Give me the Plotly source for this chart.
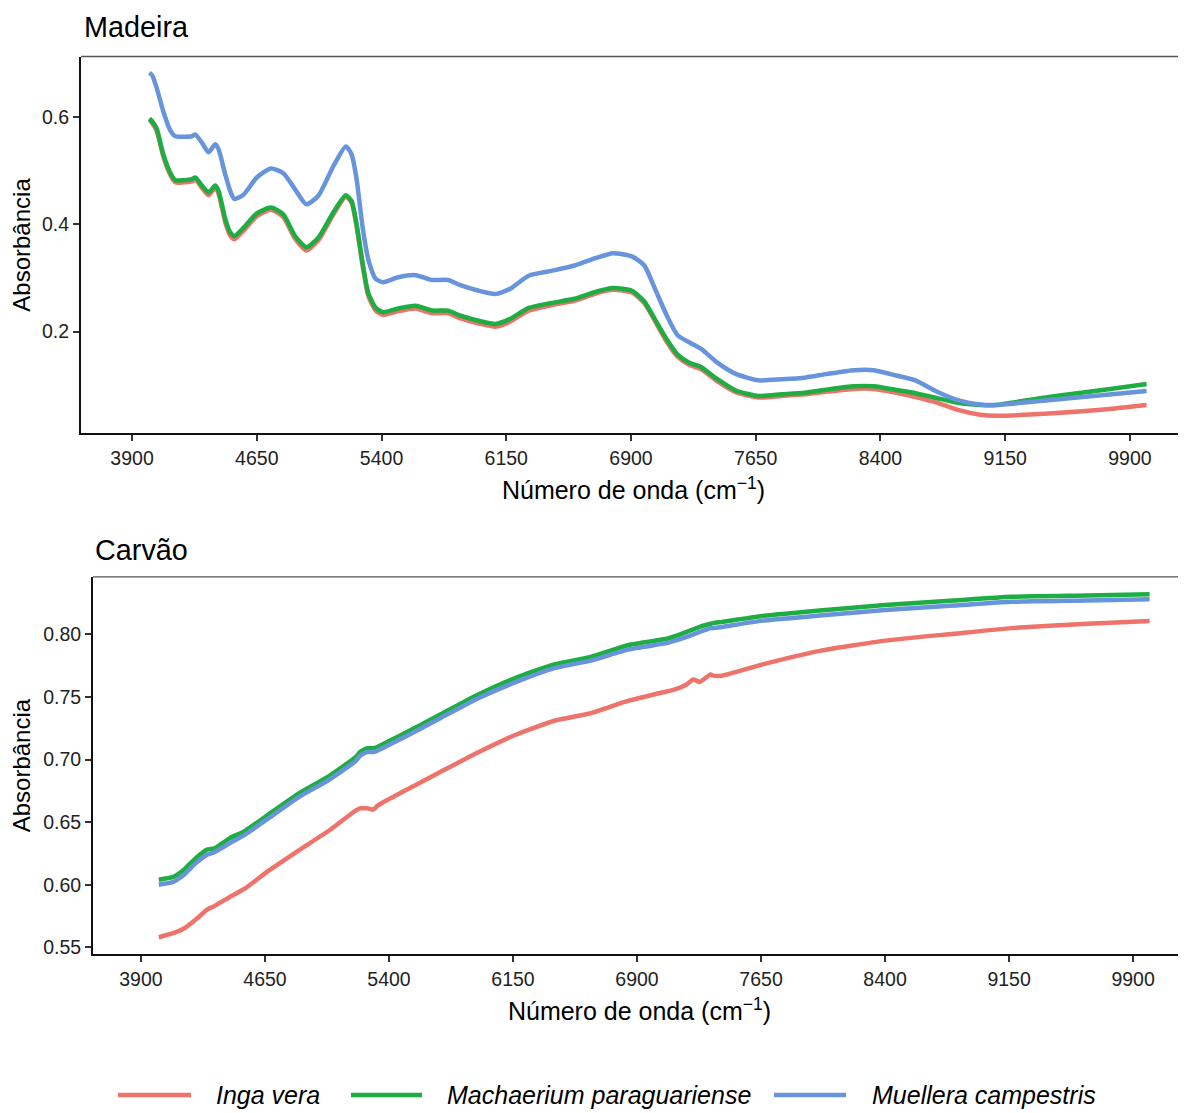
import plotly.graph_objects as go

# ---------------- data ----------------
series_names = ["Inga vera", "Machaerium paraguariense", "Muellera campestris"]
series_colors = ["#EE736B", "#1DAD43", "#6794DA"]

# Madeira (wood) spectra
wood_x = [4004, 4020, 4048, 4088, 4128, 4160, 4210, 4260, 4280, 4320, 4360, 4400, 4420,
          4460, 4490, 4515, 4570, 4650, 4735, 4810, 4880, 4948, 5020, 5110, 5185, 5220,
          5250, 5285, 5320, 5365, 5410, 5500, 5605, 5705, 5800, 5870, 5985, 6085, 6170,
          6285, 6420, 6560, 6700, 6790, 6905, 6980, 7045, 7115, 7180, 7250, 7320, 7415,
          7530, 7665, 7805, 7945, 8080, 8240, 8360, 8495, 8610, 8725, 8865, 9000, 9095,
          9410, 9760, 10000]
wood_inga = [0.594, 0.589, 0.574, 0.526, 0.493, 0.478, 0.478, 0.480, 0.483, 0.468, 0.454,
             0.468, 0.457, 0.404, 0.379, 0.372, 0.388, 0.415, 0.427, 0.413, 0.373, 0.351,
             0.370, 0.418, 0.451, 0.440, 0.396, 0.325, 0.267, 0.239, 0.231, 0.238, 0.243,
             0.234, 0.234, 0.225, 0.215, 0.209, 0.218, 0.239, 0.249, 0.257, 0.272, 0.278,
             0.273, 0.253, 0.219, 0.181, 0.153, 0.138, 0.130, 0.108, 0.087, 0.077, 0.080,
             0.083, 0.088, 0.093, 0.093, 0.086, 0.078, 0.069, 0.054, 0.045, 0.043, 0.047,
             0.055, 0.063]
wood_mach = [0.597, 0.592, 0.578, 0.530, 0.497, 0.482, 0.482, 0.484, 0.487, 0.472, 0.459,
             0.472, 0.462, 0.410, 0.385, 0.378, 0.393, 0.420, 0.431, 0.418, 0.378, 0.357,
             0.375, 0.422, 0.454, 0.443, 0.400, 0.330, 0.272, 0.244, 0.236, 0.243, 0.248,
             0.239, 0.239, 0.230, 0.220, 0.214, 0.223, 0.244, 0.253, 0.261, 0.275, 0.281,
             0.276, 0.256, 0.222, 0.185, 0.157, 0.142, 0.134, 0.112, 0.090, 0.080, 0.083,
             0.086, 0.092, 0.098, 0.098, 0.091, 0.085, 0.077, 0.067, 0.063, 0.063, 0.078,
             0.092, 0.102]
wood_muel = [0.682, 0.678, 0.654, 0.610, 0.576, 0.564, 0.563, 0.564, 0.567, 0.552, 0.534,
             0.549, 0.540, 0.493, 0.462, 0.447, 0.455, 0.487, 0.504, 0.495, 0.465, 0.437,
             0.453, 0.508, 0.545, 0.530, 0.484, 0.397, 0.335, 0.298, 0.292, 0.301, 0.305,
             0.296, 0.296, 0.287, 0.276, 0.270, 0.279, 0.304, 0.313, 0.323, 0.338, 0.346,
             0.340, 0.323, 0.279, 0.230, 0.193, 0.180, 0.168, 0.143, 0.121, 0.109, 0.111,
             0.114, 0.121, 0.128, 0.128, 0.118, 0.109, 0.090, 0.072, 0.064, 0.063, 0.072,
             0.082, 0.089]

# Carvão (charcoal) spectra
char_x = [4008, 4090, 4160, 4230, 4300, 4345, 4435, 4530, 4670, 4855, 5040, 5200, 5225,
          5250, 5270, 5305, 5330, 5360, 5480, 5710, 5940, 6170, 6400, 6620, 6850, 7080,
          7130, 7200, 7240, 7280, 7345, 7360, 7415, 7660, 8005, 8400, 8815, 9165, 9625,
          10000]
char_inga = [0.558, 0.561, 0.565, 0.572, 0.580, 0.583, 0.590, 0.597, 0.611, 0.6275, 0.6435,
             0.6594, 0.661, 0.661, 0.661, 0.660, 0.663, 0.6655, 0.674, 0.690, 0.7058, 0.720,
             0.731, 0.737, 0.747, 0.7544, 0.756, 0.760, 0.764, 0.762, 0.768, 0.767, 0.767,
             0.776, 0.7868, 0.795, 0.8005, 0.805, 0.8085, 0.8107]
char_mach = [0.604, 0.606, 0.612, 0.621, 0.628, 0.629, 0.637, 0.643, 0.656, 0.673, 0.687,
             0.702, 0.706, 0.708, 0.709, 0.709, 0.710, 0.712, 0.720, 0.736, 0.752, 0.7655,
             0.776, 0.782, 0.7915, 0.7965, 0.7985, 0.802, 0.804, 0.806, 0.8085, 0.809, 0.810,
             0.8146, 0.819, 0.8234, 0.827, 0.830, 0.831, 0.832]
char_muel = [0.600, 0.602, 0.608, 0.617, 0.624, 0.626, 0.633, 0.640, 0.653, 0.670, 0.684,
             0.699, 0.703, 0.705, 0.706, 0.706, 0.707, 0.709, 0.717, 0.733, 0.749, 0.762,
             0.773, 0.779, 0.788, 0.793, 0.795, 0.798, 0.800, 0.802, 0.805, 0.805, 0.806,
             0.811, 0.815, 0.8195, 0.823, 0.826, 0.827, 0.828]

x_ticks = [3900, 4650, 5400, 6150, 6900, 7650, 8400, 9150, 9900]
wood_yticks = [0.2, 0.4, 0.6]
char_yticks = [0.55, 0.60, 0.65, 0.70, 0.75, 0.80]

panel_titles = ["Madeira", "Carvão"]
x_title = "Número de onda (cm<sup>−1</sup>)"
y_title = "Absorbância"

# ---------------- figure ----------------
# the page body has an 8px margin, so the figure is 8px smaller than the window
OFF = 8
W, H = 1186 - OFF, 1113 - OFF
FONT = "Liberation Sans, Arial, Helvetica, sans-serif"

fig = go.Figure()

wood_series = [wood_inga, wood_mach, wood_muel]
char_series = [char_inga, char_mach, char_muel]

for name, col, ys in zip(series_names, series_colors, wood_series):
    fig.add_trace(go.Scatter(x=wood_x, y=ys, mode="lines", name=name,
                             line=dict(color=col, width=4.5, shape="spline", smoothing=0.6),
                             xaxis="x", yaxis="y", showlegend=False))
for name, col, ys in zip(series_names, series_colors, char_series):
    fig.add_trace(go.Scatter(x=char_x, y=ys, mode="lines", name=name,
                             line=dict(color=col, width=4.5, shape="spline", smoothing=0.5),
                             xaxis="x2", yaxis="y2", showlegend=False))


def px_x(p):
    return (p - OFF) / W


def px_y(p):
    return 1 - (p - OFF) / H


axis_common = dict(
    showgrid=False, zeroline=False, showline=True, linecolor="#111111", linewidth=2,
    ticks="outside", ticklen=6, tickwidth=1.5, tickcolor="#333333",
    tickfont=dict(family=FONT, size=19.5, color="#222222"),
)
title_font = dict(family=FONT, size=25, color="black")

fig.update_layout(
    width=W, height=H,
    margin=dict(l=0, r=0, t=0, b=0),
    paper_bgcolor="white", plot_bgcolor="white",
    font=dict(family=FONT, color="black"),
    showlegend=False,
    xaxis=dict(domain=[px_x(81), 1.0], range=[3593, 10237], anchor="y",
               tickvals=x_ticks, ticktext=[str(v) for v in x_ticks],
               title=dict(text=x_title, font=title_font, standoff=14),
               **axis_common),
    yaxis=dict(domain=[px_y(435), px_y(56.7)], range=[0.010, 0.7125], anchor="x",
               tickvals=wood_yticks, ticktext=[f"{v:.1f}" for v in wood_yticks],
               title=dict(text=y_title, font=dict(family=FONT, size=24, color="black"), standoff=6),
               **axis_common),
    xaxis2=dict(domain=[px_x(93), 1.0], range=[3610, 10220], anchor="y2",
                tickvals=x_ticks, ticktext=[str(v) for v in x_ticks],
                title=dict(text=x_title, font=title_font, standoff=14),
                **axis_common),
    yaxis2=dict(domain=[px_y(957.7), px_y(579)], range=[0.5444, 0.8459], anchor="x2",
                tickvals=char_yticks, ticktext=[f"{v:.2f}" for v in char_yticks],
                title=dict(text=y_title, font=dict(family=FONT, size=24, color="black"), standoff=6),
                **axis_common),
)

# top border of each panel (thin grey)
for xr, yr in [("x domain", "y domain"), ("x2 domain", "y2 domain")]:
    fig.add_shape(type="line", xref=xr, yref=yr, x0=0, x1=1, y0=1, y1=1,
                  line=dict(color="#555555", width=1.3))

# panel titles
fig.add_annotation(text=panel_titles[0], xref="paper", yref="paper", x=px_x(82), y=px_y(27),
                   xanchor="left", yanchor="middle", showarrow=False,
                   font=dict(family=FONT, size=28.8, color="black"))
fig.add_annotation(text=panel_titles[1], xref="paper", yref="paper", x=px_x(93), y=px_y(551.7),
                   xanchor="left", yanchor="middle", showarrow=False,
                   font=dict(family=FONT, size=28.8, color="black"))

# legend (drawn manually to reproduce the long key lines)
legend_keys = [(118, 191, 214), (351, 422, 445), (774, 846, 870)]
leg_y = 1099
for (k0, k1, tx), name, col in zip(legend_keys, series_names, series_colors):
    fig.add_shape(type="line", xref="paper", yref="paper", x0=px_x(k0), x1=px_x(k1),
                  y0=px_y(leg_y), y1=px_y(leg_y), line=dict(color=col, width=4.5))
    fig.add_annotation(text=f"<i>{name}</i>", xref="paper", yref="paper", x=px_x(tx),
                       y=px_y(leg_y), xanchor="left", yanchor="middle", showarrow=False,
                       font=dict(family=FONT, size=25, color="black"))

fig.write_html("out.html")
